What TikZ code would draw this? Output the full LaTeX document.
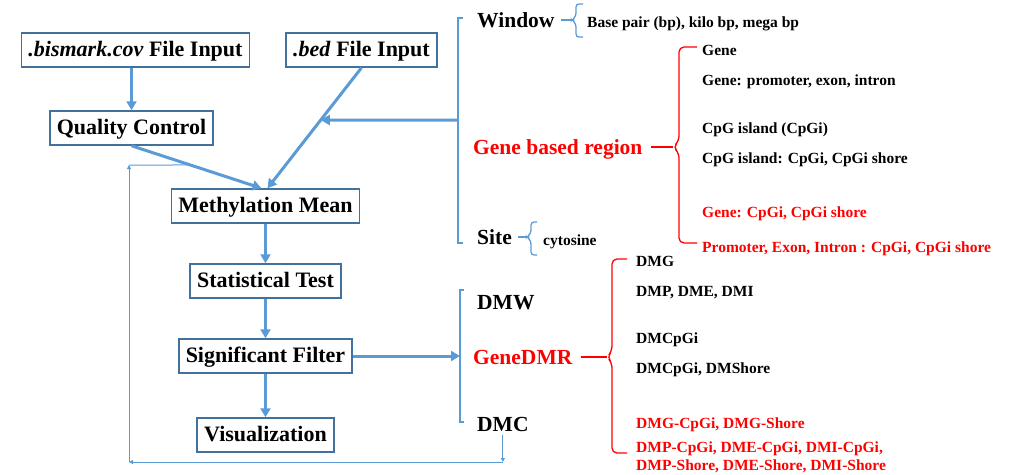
\documentclass[tikz,border=0pt]{standalone}
\usepackage{fontspec}
\setmainfont{Liberation Serif}
\usetikzlibrary{arrows.meta}
\usetikzlibrary{positioning}

\definecolor{lineblue}{HTML}{5B9BD5}
\definecolor{boxblue}{HTML}{41719C}

\begin{document}
\begin{tikzpicture}[x=1pt,y=-1pt,node distance=75pt,
	box/.style={draw=boxblue,line width=1.5pt,fill=white,minimum height=34pt,inner xsep=7pt,
		font=\fontsize{22}{26}\selectfont\bfseries,text height=15pt,text depth=2pt},
	arr/.style={-{Triangle[width=10pt,length=9pt]},draw=lineblue,line width=3pt},
	fb/.style={draw=lineblue,line width=1pt},
	fbarr/.style={fb,-{Triangle[width=4pt,length=4pt]}},
	bbrack/.style={draw=lineblue,line width=1.8pt},
	sbrack/.style={draw=lineblue,line width=1.3pt,rounded corners=3pt},
	rbrace/.style={draw=red,line width=1.3pt,rounded corners=5pt},
	lab/.style={anchor=west,inner sep=0pt,font=\fontsize{21.5}{25}\selectfont\bfseries,
		text height=14.2pt,text depth=0pt},
	item/.style={anchor=west,inner sep=0pt,font=\fontsize{15.5}{19}\selectfont\bfseries,
		text height=10.2pt,text depth=0pt}]
	\useasboundingbox (0,0) rectangle (1011,474);
	
	% flow chart
	\node[box] (cov) at (135.5,50) {\textit{.bismark.cov} File Input};
	\node[box] (bed) at (361.5,50) {\textit{.bed} File Input};
	\node[box] (qc) at (131.5,128) {Quality Control};
	\node[box] (mm) at (265.5,206) {Methylation Mean};
	\node[box] (st) [below of=mm] {Statistical Test};
	\node[box] (sf) [below of=st] {Significant Filter};
	\node[box] (vis) [below of=sf,node distance=79pt] {Visualization};
	
	\coordinate (mmin) at ([xshift=-4pt]mm.north);
	\coordinate (mmin2) at ([xshift=2pt]mm.north);
	\draw[arr] (cov.south -| qc) -- (qc.north);
	\draw[arr] (qc.south) -- (mmin);
	\draw[arr] (bed.south) -- (mmin2);
	\draw[arr] (mm) -- (st);
	\draw[arr] (st) -- (sf);
	\draw[arr] (sf) -- (vis);
	
	% output types
	\node[lab] (win) at (477,20) {Window};
	\node[lab,text=red] (gbr) at (473,147) {Gene based region};
	\node[lab] (site) at (477,237) {Site};
	\node[item] (bp) at (587,22) {Base pair (bp), kilo bp, mega bp};
	\node[item] (cyt) at (543,240) {cytosine};
	
	\node[item] (g1) at (702,50) {Gene};
	\node[item] (g2) at (702,80) {Gene: promoter, exon, intron};
	\node[item] (g3) at (702,128) {CpG island (CpGi)};
	\node[item] (g4) at (702,158) {CpG island: CpGi, CpGi shore};
	\node[item,text=red] (g5) at (702,212) {Gene: CpGi, CpGi shore};
	\node[item,text=red] (g6) at (702,247) {Promoter, Exon, Intron : CpGi, CpGi shore};
	
	\coordinate (b1top) at (463,18);
	\coordinate (b1mid) at (458,120);
	\coordinate (b1far) at (300,120);
	\draw[bbrack] (b1top) -- (458,18) -- (458,243) -- (463,243);
	\draw[arr] (b1mid) -- (intersection of b1mid--b1far and bed.south--mmin2);
	
	\coordinate (wtip) at (572,20);
	\draw[sbrack] ([xshift=6pt]win.east) -- (wtip);
	\draw[sbrack] (583,4) -- (576,4) -- (576,16) -- (wtip) -- (576,24) -- (576,37) -- (583,37);
	\coordinate (stip) at (527,237);
	\draw[sbrack] ([xshift=6pt]site.east) -- (stip);
	\draw[sbrack] (537,222) -- (531,222) -- (531,233) -- (stip) -- (531,241) -- (531,255) -- (537,255);
	
	\coordinate (gtip) at (673,147);
	\draw[rbrace] ([xshift=8pt]gbr.east) -- (gtip);
	\draw[rbrace] (697,47) -- (679,47) -- (679,141) -- (gtip) -- (679,153) -- (679,243) -- (697,243);
	
	% results
	\node[lab] (dmw) at (477,302) {DMW};
	\node[lab,text=red] (gdmr) at (473,357) {GeneDMR};
	\node[lab] (dmc) at (477,424) {DMC};
	
	\node[item] (d1) at (636,261) {DMG};
	\node[item] (d2) at (636,291) {DMP, DME, DMI};
	\node[item] (d3) at (636,338) {DMCpGi};
	\node[item] (d4) at (636,368) {DMCpGi, DMShore};
	\node[item,text=red] (d5) at (636,423) {DMG-CpGi, DMG-Shore};
	\node[item,text=red] (d6) at (636,447) {DMP-CpGi, DME-CpGi, DMI-CpGi,};
	\node[item,text=red] (d7) at (636,465) {DMP-Shore, DME-Shore, DMI-Shore};
	
	\coordinate (b2mid) at (460,356);
	\draw[bbrack] (464,290) -- (460,290) -- (460,422) -- (464,422);
	\draw[arr] (sf.east) -- (sf.east -| b2mid);
	
	\coordinate (dtip) at (607,357);
	\draw[rbrace] ([xshift=8pt]gdmr.east) -- (dtip);
	\draw[rbrace] (627,259) -- (612,259) -- (612,351) -- (dtip) -- (612,363) -- (612,453) -- (627,453);
	
	% feedback loop
	\coordinate (fb2) at (129,462);
	\coordinate (fb3) at (129,165);
	\coordinate (fb4) at (300,165);
	\draw[fbarr] ([yshift=-4pt]dmc.south) -- (dmc.south |- fb2);
	\draw[fbarr] (dmc.south |- fb2) -- (fb2);
	\draw[fbarr] (fb2) -- (fb3);
	\draw[fb] (fb3) -- (intersection of fb3--fb4 and qc.south--mmin);
\end{tikzpicture}
\end{document}
